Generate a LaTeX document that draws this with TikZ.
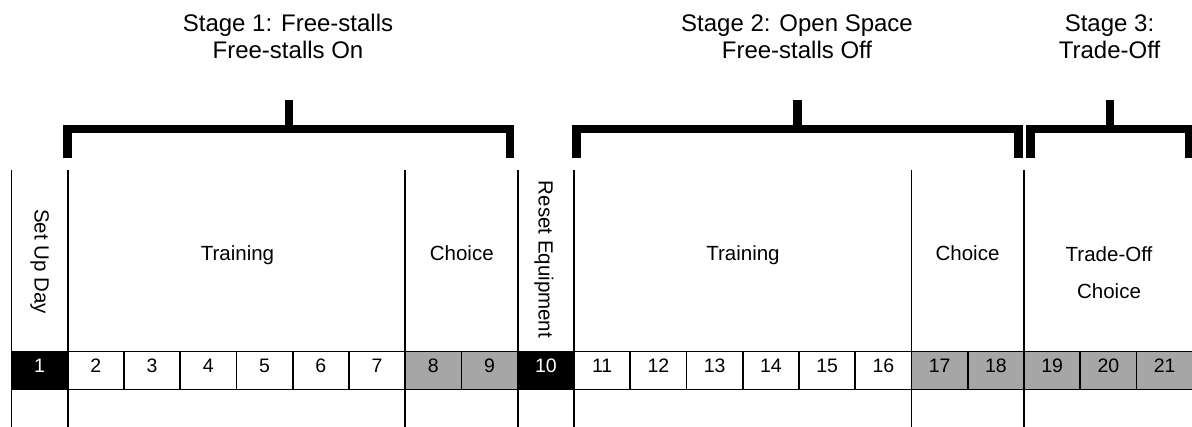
\documentclass[tikz,border=0pt]{standalone}
\usepackage{fontspec}
\setmainfont{Liberation Sans}
\definecolor{cellgray}{RGB}{166,166,166}
\begin{document}
\begin{tikzpicture}[x=1pt,y=-1pt,
  thinline/.style={line width=1.8pt},
  bracket/.style={line width=8.4pt, line join=miter, line cap=butt},
  cell/.style={draw, thinline, minimum width=56.25pt, minimum height=38pt, inner sep=0pt, outer sep=0pt,
    font=\fontsize{19.5}{20}\selectfont, text height=14pt, text depth=10.4pt},
  whitecell/.style={cell, fill=white, text=black},
  graycell/.style={cell, fill=cellgray, text=black},
  blackcell/.style={cell, fill=black, text=white},
  title/.style={anchor=base, inner sep=0pt, font=\fontsize{24}{27}\selectfont},
  label/.style={anchor=base, inner sep=0pt, font=\fontsize{20.5}{24}\selectfont},
  vlabel/.style={anchor=center, inner sep=0pt, rotate=-90, font=\fontsize{20.5}{24}\selectfont}]
\useasboundingbox (0,0) rectangle (1192,426);
\fill[white] (0,0) rectangle (1192,426);

% titles
\node[title] (s1a) at (288,31.5) {Stage 1: Free-stalls};
\node[title] (s1b) at (288,58.3) {Free-stalls On};
\node[title] (s2a) at (797,31.5) {Stage 2: Open Space};
\node[title] (s2b) at (797,58.3) {Free-stalls Off};
\node[title] (s3a) at (1109.5,31.5) {Stage 3:};
\node[title] (s3b) at (1109.5,58.3) {Trade-Off};

% brackets
\draw[bracket] (67.5,158.3) -- (67.5,129) -- (510,129) -- (510,158.3);
\draw[bracket] (288.75,129) -- (288.75,100);
\draw[bracket] (576.5,158.3) -- (576.5,129) -- (1018.5,129) -- (1018.5,158.3);
\draw[bracket] (797.5,129) -- (797.5,100);
\draw[bracket] (1030.5,158.3) -- (1030.5,129) -- (1189,129) -- (1189,158.3);
\draw[bracket] (1109.75,129) -- (1109.75,100);

% day cells
\foreach \i/\s in {1/blackcell,2/whitecell,3/whitecell,4/whitecell,5/whitecell,6/whitecell,7/whitecell,
  8/graycell,9/graycell,10/blackcell,11/whitecell,12/whitecell,13/whitecell,14/whitecell,15/whitecell,
  16/whitecell,17/graycell,18/graycell,19/graycell,20/graycell,21/graycell}
  \node[\s] (c\i) at ({11.5+56.25*(\i-0.5)},370.5) {\i};

% long vertical dividers
\coordinate (top) at (0,169.5);
\coordinate (bot) at (0,427);
\foreach \c in {c1.south west, c2.south west, c8.south west, c10.south west, c11.south west, c17.south west, c19.south west}
  \draw[thinline] (\c |- top) -- (\c |- bot);

% phase labels
\node[vlabel] (setup) at (39.75,261.7) {Set Up Day};
\node[label] (tr1) at (237.5,260.7) {Training};
\node[label] (ch1) at (461.8,260.7) {Choice};
\node[vlabel] (reset) at (544,259.5) {Reset Equipment};
\node[label] (tr2) at (743,260.7) {Training};
\node[label] (ch2) at (967.5,260.7) {Choice};
\node[label] (to1) at (1109,261.7) {Trade-Off};
\node[label] (to2) at (1109,298.3) {Choice};
\end{tikzpicture}
\end{document}
